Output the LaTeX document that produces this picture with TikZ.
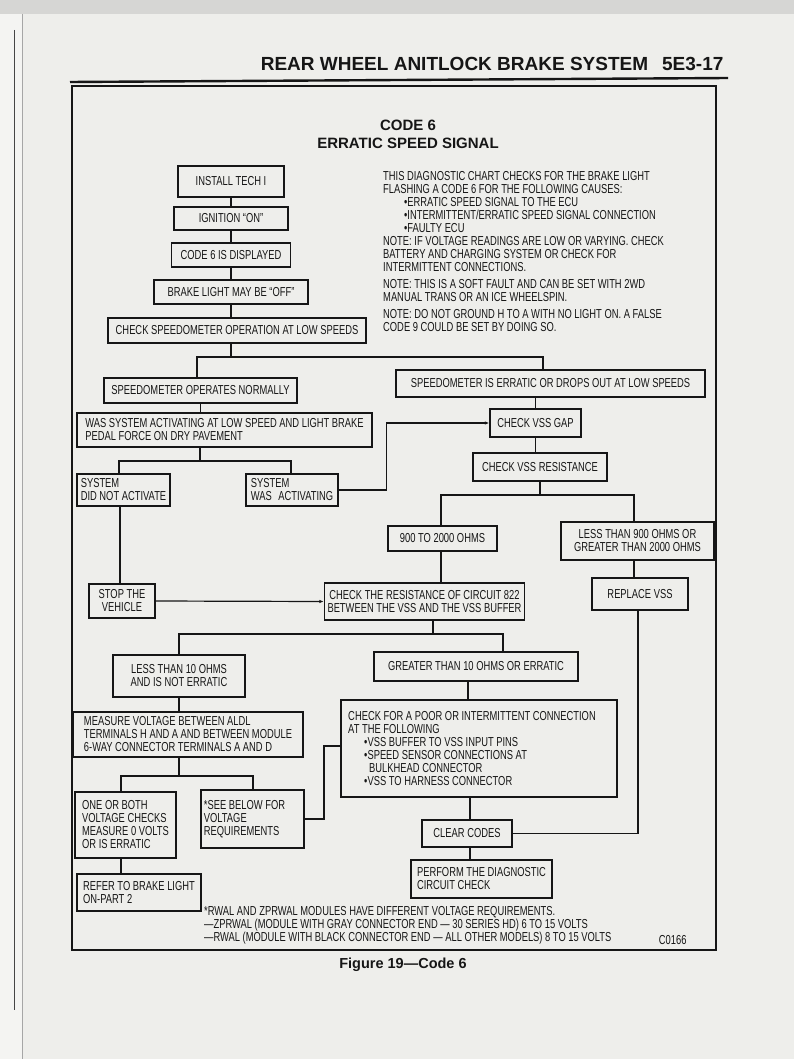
\documentclass[tikz,border=0pt]{standalone}
\usepackage{fontspec}
\setmainfont{Liberation Sans}[FakeStretch=0.72]
\newfontfamily\headfont{Liberation Sans}
\usetikzlibrary{arrows.meta, calc}
\definecolor{Ink}{RGB}{22,22,22}
\definecolor{PageBG}{RGB}{238,238,235}
\definecolor{DeskBG}{RGB}{214,214,212}
\definecolor{LeftPage}{RGB}{244,244,242}
\hyphenpenalty=10000

\begin{document}
\begin{tikzpicture}[
  x=1pt, y=-1pt,
  every node/.style={font=\fontsize{13}{13}\selectfont, text=Ink},
  box/.style={draw=Ink, line width=1.2pt, align=center, inner sep=3pt},
  lbox/.style={box, align=left},
  link/.style={draw=Ink, line width=1.2pt},
  arrowlink/.style={link, -{Latex[length=1.6mm, width=1.2mm]}}
]
\useasboundingbox (0,0) rectangle (794,1059);
% page and surroundings
\fill[PageBG] (0,0) rectangle (794,1059);
\fill[DeskBG] (0,0) rectangle (794,14);
\fill[LeftPage] (0,14) rectangle (22,1059);
\draw[gray!70, line width=0.8pt] (22,14) -- (22,1059);
\draw[Ink!80, line width=1pt] (14,30) -- (14,1010);

% running head
\node[anchor=base east, font=\headfont\bfseries\fontsize{19}{20}\selectfont] (head) at (727,71)
  {REAR WHEEL ANITLOCK BRAKE SYSTEM\hspace{14pt}5E3-17};
\draw[Ink, line width=2.4pt] (70,82) -- (728,78);
\draw[Ink, line width=1.5pt] (72,86) rectangle (716,950);

% title
\node[font=\headfont\bfseries\fontsize{15}{18}\selectfont, align=center] (title) at (408,134)
  {CODE 6\\ERRATIC SPEED SIGNAL};

% note block
\node[anchor=north west, align=left, inner sep=0pt] (note) at (383,171) {%
THIS DIAGNOSTIC CHART CHECKS FOR THE BRAKE LIGHT\\
FLASHING A CODE 6 FOR THE FOLLOWING CAUSES:\\
\hspace*{21pt}•ERRATIC SPEED SIGNAL TO THE ECU\\
\hspace*{21pt}•INTERMITTENT/ERRATIC SPEED SIGNAL CONNECTION\\
\hspace*{21pt}•FAULTY ECU\\
NOTE: IF VOLTAGE READINGS ARE LOW OR VARYING. CHECK\\
BATTERY AND CHARGING SYSTEM OR CHECK FOR\\
INTERMITTENT CONNECTIONS.\\[4pt]
NOTE: THIS IS A SOFT FAULT AND CAN BE SET WITH 2WD\\
MANUAL TRANS OR AN ICE WHEELSPIN.\\[4pt]
NOTE: DO NOT GROUND H TO A WITH NO LIGHT ON. A FALSE\\
CODE 9 COULD BE SET BY DOING SO.};

% chart boxes
\node[box, minimum width=106, minimum height=31] (install) at (231,181.5) {INSTALL TECH I};
\node[box, minimum width=114, minimum height=23] (ignition) at (231,218.5) {IGNITION “ON”};
\node[box, minimum width=119, minimum height=24] (code6) at (231,255) {CODE 6 IS DISPLAYED};
\node[box, minimum width=154, minimum height=24] (brakeoff) at (231,292) {BRAKE LIGHT MAY BE “OFF”};
\node[box, minimum width=258, minimum height=25] (speedo) at (237,330.5) {CHECK SPEEDOMETER OPERATION AT LOW SPEEDS};
\node[box, minimum width=193, minimum height=25] (normal) at (200.5,390.5) {SPEEDOMETER OPERATES NORMALLY};
\node[box, minimum width=309, minimum height=27] (erratic) at (550.5,383.5) {SPEEDOMETER IS ERRATIC OR DROPS OUT AT LOW SPEEDS};
\node[lbox, minimum width=295, minimum height=34] (wassys) at (224.5,430)
  {WAS SYSTEM ACTIVATING AT LOW SPEED AND LIGHT BRAKE\\PEDAL FORCE ON DRY PAVEMENT};
\node[box, minimum width=91, minimum height=28] (vssgap) at (535.5,423) {CHECK VSS GAP};
\node[box, minimum width=134, minimum height=28] (vssres) at (540,467) {CHECK VSS RESISTANCE};
\node[lbox, minimum width=93, minimum height=32] (notact) at (123.5,490) {SYSTEM\\DID NOT ACTIVATE};
\node[lbox, minimum width=92, minimum height=32] (wasact) at (292,490) {SYSTEM\\WAS\hspace{4pt} ACTIVATING};
\node[box, minimum width=109, minimum height=25] (ohms900) at (442.5,538.5) {900 TO 2000 OHMS};
\node[box, minimum width=153, minimum height=38] (outrange) at (637.5,541)
  {LESS THAN 900 OHMS OR\\GREATER THAN 2000 OHMS};
\node[box, minimum width=66, minimum height=34] (stop) at (122,601) {STOP THE\\VEHICLE};
\node[box, minimum width=191, minimum height=37] (res822) at (424.5,601.5)
  {CHECK THE RESISTANCE OF CIRCUIT 822\\BETWEEN THE VSS AND THE VSS BUFFER};
\node[box, minimum width=96, minimum height=32] (replace) at (640,594) {REPLACE VSS};
\node[box, minimum width=132, minimum height=42] (less10) at (179,676) {LESS THAN 10 OHMS\\AND IS NOT ERRATIC};
\node[box, minimum width=204, minimum height=29] (greater10) at (476,666.5) {GREATER THAN 10 OHMS OR ERRATIC};
\node[lbox, minimum width=230, minimum height=45] (measure) at (188,734.5)
  {MEASURE VOLTAGE BETWEEN ALDL\\TERMINALS H AND A AND BETWEEN MODULE\\6-WAY CONNECTOR TERMINALS A AND D};
\node[lbox, minimum width=276, minimum height=97] (poor) at (479,748.5)
  {CHECK FOR A POOR OR INTERMITTENT CONNECTION\hspace*{14pt}\\AT THE FOLLOWING\\
   \hspace*{16pt}•VSS BUFFER TO VSS INPUT PINS\\
   \hspace*{16pt}•SPEED SENSOR CONNECTIONS AT\\
   \hspace*{21pt}BULKHEAD CONNECTOR\\
   \hspace*{16pt}•VSS TO HARNESS CONNECTOR};
\node[lbox, minimum width=101, minimum height=66] (oneboth) at (125.5,825)
  {ONE OR BOTH\\VOLTAGE CHECKS\\MEASURE 0 VOLTS\\OR IS ERRATIC};
\node[lbox, minimum width=103, minimum height=58] (seebelow) at (252.5,819)
  {*SEE BELOW FOR\hspace*{16pt}\\VOLTAGE\\REQUIREMENTS};
\node[box, minimum width=90, minimum height=27] (clear) at (467,833.5) {CLEAR CODES};
\node[lbox, minimum width=141, minimum height=38] (perform) at (481.5,879)
  {PERFORM THE DIAGNOSTIC\\CIRCUIT CHECK};
\node[lbox, minimum width=124, minimum height=37] (refer) at (139,892.5)
  {REFER TO BRAKE LIGHT\\ON-PART 2};

% footnote and figure number
\node[anchor=north west, align=left, inner sep=0pt] (foot) at (204,906)
  {*RWAL AND ZPRWAL MODULES HAVE DIFFERENT VOLTAGE REQUIREMENTS.\\
   —ZPRWAL (MODULE WITH GRAY CONNECTOR END — 30 SERIES HD) 6 TO 15 VOLTS\\
   —RWAL (MODULE WITH BLACK CONNECTOR END — ALL OTHER MODELS) 8 TO 15 VOLTS};
\node[anchor=base east] (fignum) at (690,944) {C0166};
\node[font=\headfont\bfseries\fontsize{14.5}{16}\selectfont] (caption) at (403,965) {Figure 19—Code 6};

% junctions
\coordinate (splitA) at (231,357);
\coordinate (splitB) at (200,461);
\coordinate (splitC) at (540,495);
\coordinate (splitD) at (433,634);
\coordinate (splitE) at (179,776);

% connectors
\draw[link] (install) -- (ignition);
\draw[link] (ignition) -- (code6);
\draw[link] (code6) -- (brakeoff);
\draw[link] (brakeoff) -- (brakeoff |- speedo.north);
\draw[link] (splitA |- speedo.south) -- (splitA);
\draw[link] (normal.north -| 197,0) |- (splitA) -| (erratic.north -| 543,0);
\draw[link] (normal.south) -- (normal.south |- wassys.north);
\draw[link] (splitB |- wassys.south) -- (splitB);
\draw[link] (notact.north -| 119,0) |- (splitB) -| (wasact.north -| 291,0);
\draw[arrowlink] (wasact.east) -- ++(48,0) |- (vssgap.west);
\draw[link] (vssgap.north) -- (vssgap.north |- erratic.south);
\draw[link] (vssgap.south) -- (vssgap.south |- vssres.north);
\draw[link] (vssres.south) -- (splitC);
\draw[link] (ohms900.north -| 441,0) |- (splitC) -| (outrange.north -| 634,0);
\draw[link] (ohms900.south -| 441,0) -- (res822.north -| 441,0);
\draw[link] (notact.south -| 120,0) -- (stop.north -| 120,0);
\draw[arrowlink] (stop.east) -- (res822.west);
\draw[link] (outrange.south -| 634,0) -- (replace.north -| 634,0);
\draw[link] (replace.south -| 638,0) |- (clear.east);
\draw[link] (splitD |- res822.south) -- (splitD);
\draw[link] (less10.north) |- (splitD) -| (greater10.north -| 503,0);
\draw[link] (less10.south) -- (less10.south |- measure.north);
\draw[link] (greater10.south -| 468,0) -- (poor.north -| 468,0);
\draw[link] (splitE |- measure.south) -- (splitE);
\draw[link] (oneboth.north -| 121,0) |- (splitE) -| (seebelow.north -| 253,0);
\draw[link] (seebelow.east |- 0,819) -- (324,819) |- (poor.west |- 0,746);
\draw[link] (poor.south -| 470,0) -- (clear.north -| 470,0);
\draw[link] (clear.south -| 470,0) -- (perform.north -| 470,0);
\draw[link] (oneboth.south -| 121,0) -- (refer.north -| 121,0);
\end{tikzpicture}
\end{document}
